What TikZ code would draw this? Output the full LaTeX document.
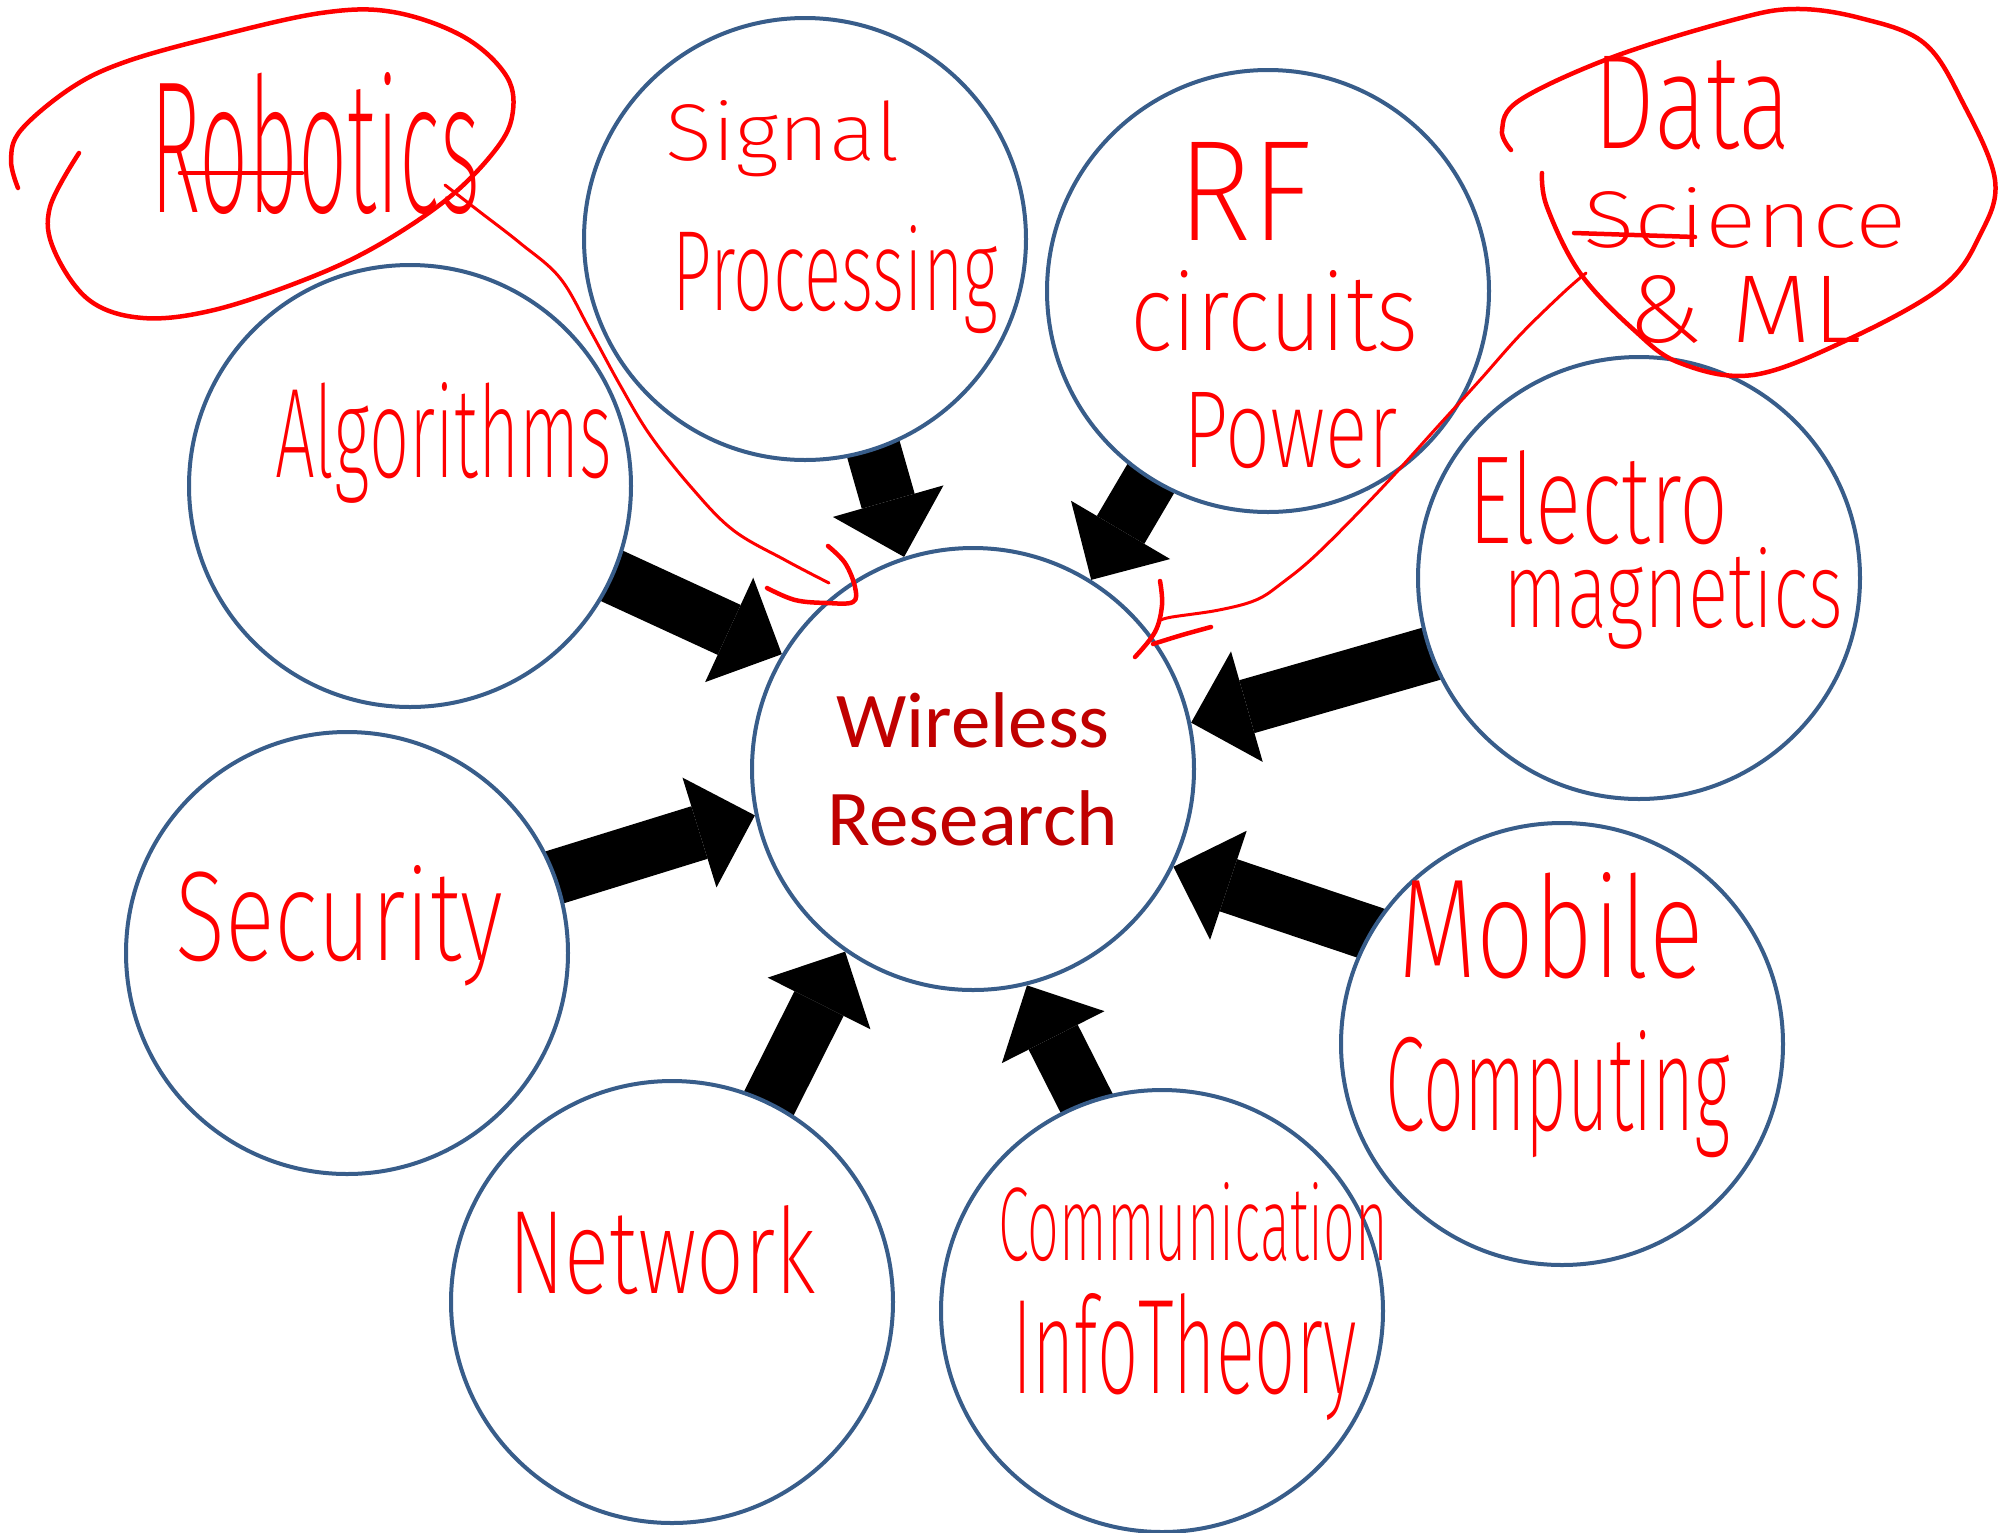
\documentclass[tikz,border=0pt]{standalone}
\usepackage{fontspec}
\usepackage{graphicx}
\usetikzlibrary{arrows.meta,backgrounds}
\newfontfamily\calibrilike{Carlito}[UprightFont=*, BoldFont=*]
\newfontfamily\handfont{Fira Sans ExtraLight}
\definecolor{ringblue}{HTML}{385D8A}
\definecolor{titlered}{HTML}{C00000}
\definecolor{inkred}{HTML}{FF0000}
% hand-lettered word stretched to a given width and height (in pt)
\newcommand\hw[3]{\resizebox{#1pt}{#2pt}{#3}}
\begin{document}
\begin{tikzpicture}[x=1pt,y=-1pt,
  ring/.style={circle, draw=ringblue, line width=4pt, fill=white,
               minimum size=442pt, inner sep=0pt},
  hub/.style={ring, text=titlered, align=center,
              font=\calibrilike\mdseries\fontsize{79}{98}\selectfont},
  ink/.style={inner sep=0pt, anchor=base west, text=inkred, font=\handfont},
  feed/.style={line width=55pt,
               -{Triangle[width=115pt,length=58pt,line width=0pt]},
               shorten <=-24pt},
  pen/.style={draw=inkred, line width=4.5pt, line cap=round, line join=round},
  fine/.style={draw=inkred, line width=3pt, line cap=round, line join=round}
]
\useasboundingbox (0,0) rectangle (2016,1532);

% topic circles
\node[hub]  (wr)  at (973,769)   {Wireless\\Research};
\node[ring] (sig) at (805,239)   {};
\node[ring] (rf)  at (1268,291)  {};
\node[ring] (alg) at (410,486)   {};
\node[ring] (em)  at (1639,578)  {};
\node[ring] (sec) at (347,953)   {};
\node[ring] (mob) at (1562,1044) {};
\node[ring] (net) at (672,1302)  {};
\node[ring] (com) at (1162,1311) {};

% block arrows feeding the hub
\begin{pgfonlayer}{background}
  \fill[white] (0,0) rectangle (2016,1532);
  \draw[feed] (sig.288) -- (wr.108);
  \draw[feed] (rf.238)  -- (wr.58);
  \draw[feed] (alg.336) -- (wr.149);
  \draw[feed] (em.200)  -- (wr.12);
  \draw[feed] (sec.20)  -- (wr.192);
  \draw[feed] (mob.150) -- (wr.334);
  \draw[feed] (net.64)  -- (wr.235);
  \draw[feed] (com.110) -- (wr.284);
\end{pgfonlayer}

% hand-lettered topic names
\node[ink] (tsigA) at (665,160)  {\hw{235}{60}{Signal}};
\node[ink] (tsigB) at (672,310)  {\hw{326}{85}{Processing}};
\node[ink] (trfA)  at (1177,240) {\hw{135}{98}{RF}};
\node[ink] (trfB)  at (1130,350) {\hw{288}{80}{circuits}};
\node[ink] (trfC)  at (1183,467) {\hw{214}{75}{Power}};
\node[ink] (talg)  at (275,477)  {\hw{337}{95}{Algorithms}};
\node[ink] (temA)  at (1468,543) {\hw{260}{93}{Electro}};
\node[ink] (temB)  at (1503,627) {\hw{340}{80}{magnetics}};
\node[ink] (tsec)  at (175,960)  {\hw{328}{95}{Security}};
\node[ink] (tmobA) at (1398,977) {\hw{305}{105}{Mobile}};
\node[ink] (tmobB) at (1385,1130){\hw{345}{100}{Computing}};
\node[ink] (tnet)  at (508,1293) {\hw{308}{88}{Network}};
\node[ink] (tcomA) at (998,1260) {\hw{390}{78}{Communication}};
\node[ink] (tcomB) at (1012,1393){\hw{344}{100}{InfoTheory}};

% added topics, circled by hand
\node[ink] (trob)  at (150,212)  {\hw{330}{140}{Robotics}};
\draw[pen] (180,173) -- (302,173);
\draw[pen] plot[smooth, tension=0.6] coordinates {(18,188) (11,160) (21,130)
  (71,88) (125,62) (214,37) (321,13) (393,12) (464,37) (507,77) (512,117)
  (493,153) (446,200) (375,247) (304,280) (214,310) (143,318) (89,300)
  (54,250) (50,207) (79,153)};
\draw[fine] plot[smooth, tension=0.6] coordinates {(445,185) (480,212)
  (520,243) (560,278) (590,330) (620,385) (650,435) (691,487) (733,530)
  (785,560) (829,583)};
\draw[pen] plot[smooth, tension=0.6] coordinates {(828,546) (845,563)
  (855,587) (853,602) (827,603) (795,600) (767,588)};

\node[ink] (tdsA) at (1593,148) {\hw{198}{92}{Data}};
\node[ink] (tdsB) at (1583,247) {\hw{323}{60}{Science}};
\node[ink] (tdsC) at (1627,342) {\hw{234}{67}{\& ML}};
\draw[pen] (1574,233) -- (1695,237);
\draw[pen] plot[smooth, tension=0.6] coordinates {(1511,150) (1502,130)
  (1520,100) (1613,57) (1733,20) (1795,9) (1860,18) (1924,43) (1963,103)
  (1995,180) (1980,235) (1942,287) (1847,340) (1753,375) (1680,363)
  (1634,330) (1580,273) (1547,207) (1542,173)};
\draw[fine] plot[smooth, tension=0.6] coordinates {(1586,273) (1563,293)
  (1520,335) (1480,380) (1440,424) (1380,490) (1318,553) (1282,583)
  (1256,600) (1219,610) (1172,617) (1161,620)};
\draw[pen] plot[smooth, tension=0.6] coordinates {(1160,581) (1162,605)
  (1155,632) (1135,657)};
\draw[pen] plot[smooth, tension=0.6] coordinates {(1153,644) (1182,635)
  (1211,627)};
\end{tikzpicture}
\end{document}
